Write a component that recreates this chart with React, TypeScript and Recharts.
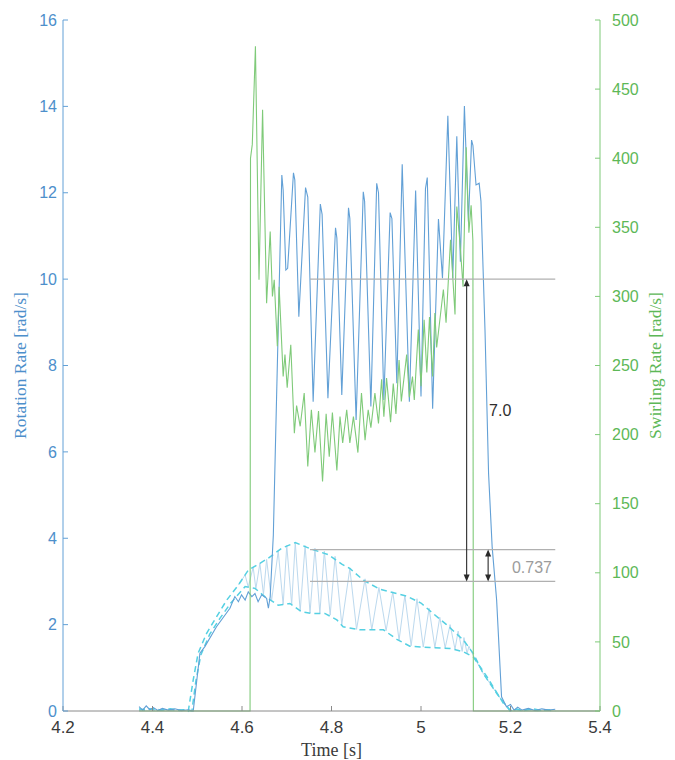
import React from 'react';
import { LineChart, Line, XAxis, YAxis, ReferenceLine, ReferenceDot } from 'recharts';

// ---- axis ticks ----
const timeTicks = [4.2, 4.4, 4.6, 4.8, 5.0, 5.2, 5.4];
const rotationTicks = [0, 2, 4, 6, 8, 10, 12, 14, 16];
const swirlTicks = [0, 50, 100, 150, 200, 250, 300, 350, 400, 450, 500];

// ---- Rotation rate (left axis, solid blue) ----
const rotationTime = [
  4.370, 4.378, 4.386, 4.394, 4.402, 4.412, 4.422, 4.435, 4.450, 4.465, 4.480, 4.491,
  4.506, 4.517, 4.543, 4.573, 4.584, 4.592, 4.599, 4.607, 4.614, 4.622, 4.629, 4.636,
  4.644, 4.655, 4.659, 4.663, 4.670, 4.689, 4.692, 4.698, 4.702, 4.715, 4.718, 4.727,
  4.742, 4.747, 4.759, 4.775, 4.779, 4.792, 4.809, 4.812, 4.823, 4.838, 4.841, 4.855,
  4.871, 4.874, 4.888, 4.901, 4.905, 4.917, 4.931, 4.935, 4.946, 4.958, 4.974, 4.988,
  5.000, 5.010, 5.014, 5.026, 5.039, 5.048, 5.060, 5.071, 5.080, 5.088, 5.097, 5.106,
  5.113, 5.116, 5.123, 5.130, 5.134, 5.143, 5.151, 5.159, 5.169, 5.180, 5.191, 5.200,
  5.208, 5.216, 5.226, 5.240, 5.255, 5.270, 5.285, 5.300,
];
const rotationValue = [
  0.10, 0.02, 0.12, 0.03, 0.08, 0.01, 0.06, 0.02, 0.05, 0.01, 0.03, 0.00,
  1.34, 1.49, 1.95, 2.38, 2.65, 2.53, 2.69, 2.57, 2.76, 2.65, 2.72, 2.53,
  2.69, 2.61, 2.38, 2.65, 4.07, 12.41, 12.06, 10.21, 10.25, 12.46, 12.30, 9.13,
  12.12, 11.90, 7.16, 11.74, 11.50, 7.24, 11.19, 10.95, 7.32, 11.65, 11.40, 6.74,
  12.02, 11.80, 7.05, 12.22, 12.00, 7.20, 11.54, 11.40, 7.59, 12.66, 7.16, 12.05,
  7.28, 12.10, 12.35, 7.00, 11.39, 10.02, 13.78, 10.02, 13.31, 10.40, 14.01, 11.33,
  13.22, 13.10, 12.18, 12.22, 11.80, 8.82, 5.50, 3.80, 2.57, 0.33, 0.10, 0.15,
  0.02, 0.09, 0.02, 0.06, 0.01, 0.05, 0.02, 0.04,
];

// ---- Swirling rate (right axis, green) ----
const swirlTime = [
  4.370, 4.618, 4.619, 4.623, 4.630, 4.638, 4.646, 4.655, 4.663, 4.668, 4.672, 4.679,
  4.683, 4.692, 4.696, 4.701, 4.709, 4.717, 4.722, 4.730, 4.739, 4.747, 4.755, 4.763,
  4.771, 4.780, 4.788, 4.795, 4.802, 4.812, 4.819, 4.825, 4.834, 4.841, 4.849, 4.859,
  4.867, 4.875, 4.882, 4.888, 4.897, 4.905, 4.912, 4.917, 4.923, 4.932, 4.938, 4.944,
  4.951, 4.956, 4.968, 4.974, 4.981, 4.985, 4.994, 5.000, 5.007, 5.013, 5.019, 5.026,
  5.031, 5.035, 5.050, 5.056, 5.066, 5.076, 5.080, 5.087, 5.094, 5.101, 5.107, 5.112,
  5.116, 5.117, 5.400,
];
const swirlValue = [
  0, 0, 400, 410, 481, 312, 435, 295, 347, 300, 312, 264,
  307, 242, 258, 234, 265, 201, 221, 206, 230, 177, 218, 187,
  217, 166, 215, 184, 216, 174, 213, 194, 218, 194, 213, 187,
  230, 196, 218, 205, 230, 208, 240, 213, 241, 209, 237, 215,
  254, 224, 258, 227, 242, 225, 276, 235, 283, 245, 285, 242,
  288, 263, 305, 281, 341, 287, 365, 339, 307, 408, 346, 366,
  340, 0, 0,
];

// ---- upper envelope (cyan dashed) ----
const upperTime = [
  4.370, 4.385, 4.400, 4.420, 4.440, 4.460, 4.475, 4.480, 4.491, 4.502, 4.521, 4.543,
  4.566, 4.592, 4.614, 4.640, 4.659, 4.689, 4.719, 4.752, 4.793, 4.823, 4.841, 4.871,
  4.908, 4.968, 5.000, 5.020, 5.057, 5.095, 5.117, 5.139, 5.169, 5.195, 5.199, 5.210,
  5.225, 5.240, 5.260, 5.280, 5.300,
];
const upperValue = [
  0.05, 0.01, 0.06, 0.02, 0.05, 0.01, 0.03, 0.00, 0.72, 1.34, 1.80, 2.18,
  2.57, 2.92, 3.26, 3.42, 3.54, 3.77, 3.90, 3.76, 3.62, 3.40, 3.30, 3.03,
  2.82, 2.66, 2.50, 2.32, 2.00, 1.64, 1.33, 0.87, 0.41, 0.06, 0.00, 0.05,
  0.01, 0.04, 0.01, 0.03, 0.00,
];

// ---- lower envelope (cyan dashed) ----
const lowerTime = [
  4.370, 4.390, 4.410, 4.430, 4.450, 4.470, 4.488, 4.497, 4.508, 4.528, 4.551, 4.575,
  4.607, 4.629, 4.651, 4.681, 4.707, 4.733, 4.756, 4.785, 4.812, 4.826, 4.864, 4.916,
  4.946, 4.975, 5.020, 5.065, 5.095, 5.117, 5.147, 5.184, 5.202, 5.215, 5.230, 5.250,
  5.270, 5.290,
];
const lowerValue = [
  0.02, 0.06, 0.01, 0.04, 0.02, 0.03, 0.00, 0.70, 1.30, 1.78, 2.15, 2.50,
  2.88, 2.84, 2.65, 2.45, 2.49, 2.30, 2.26, 2.26, 2.11, 1.95, 1.88, 1.88,
  1.66, 1.50, 1.47, 1.45, 1.37, 1.25, 0.80, 0.18, 0.00, 0.04, 0.01, 0.05,
  0.01, 0.03,
];

// ---- oscillating model trace (light blue) ----
const modelTime = [
  4.592, 4.607, 4.614, 4.625, 4.631, 4.640, 4.648, 4.655, 4.666, 4.681, 4.692, 4.700,
  4.711, 4.719, 4.730, 4.741, 4.752, 4.763, 4.774, 4.784, 4.797, 4.808, 4.823, 4.841,
  4.856, 4.875, 4.890, 4.906, 4.922, 4.937, 4.951, 4.964, 4.978, 4.991, 5.005, 5.018,
  5.031, 5.042, 5.054, 5.065, 5.076, 5.083, 5.092, 5.096, 5.103, 5.107, 5.117, 5.140,
  5.170, 5.195,
];
const modelValue = [
  2.92, 3.15, 2.87, 3.33, 2.83, 3.42, 2.70, 3.51, 2.55, 3.70, 2.46, 3.83,
  2.47, 3.90, 2.31, 3.83, 2.27, 3.77, 2.26, 3.70, 2.22, 3.58, 2.00, 3.30,
  1.89, 3.06, 1.88, 2.86, 1.86, 2.76, 1.64, 2.68, 1.51, 2.60, 1.48, 2.38,
  1.47, 2.17, 1.46, 2.00, 1.43, 1.85, 1.38, 1.70, 1.33, 1.50, 1.28, 0.85,
  0.40, 0.05,
];

// ---- annotations (data units) ----
const levelValues = [10, 3.737, 3.0];
const levelRange = [4.752, 5.3];
const arrowTimes = [5.102, 5.15];
const arrowFrom = [3.0, 3.0];
const arrowTo = [10, 3.737];
const noteTexts = ['7.0', '0.737'];
const noteTimes = [5.177, 5.248];
const noteValues = [6.97, 3.32];

const zip = (ts: number[], vs: number[]) => ts.map((t, i) => ({ t, v: vs[i] }));
const rotationData = zip(rotationTime, rotationValue);
const swirlData = zip(swirlTime, swirlValue);
const upperData = zip(upperTime, upperValue);
const lowerData = zip(lowerTime, lowerValue);
const modelData = zip(modelTime, modelValue);

const SANS = '"Liberation Sans", Arial, Helvetica, sans-serif';
const SERIF = '"Liberation Serif", "Times New Roman", serif';
const BLUE = '#4d8fcb';
const BLUE_LINE = '#62a0d6';
const GREEN = '#5db857';
const GREEN_LINE = '#7fca79';
const CYAN = '#55d0e2';
const LIGHT = '#bcd9ee';

const ArrowShape = (p: any) => {
  const x = p.x1;
  const top = Math.min(p.y1, p.y2);
  const bot = Math.max(p.y1, p.y2);
  const c = '#2a2a2a';
  return (
    <g>
      <line x1={x} y1={top + 2} x2={x} y2={bot - 2} stroke={c} strokeWidth={1.1} />
      <polygon points={`${x},${top} ${x - 3},${top + 7} ${x + 3},${top + 7}`} fill={c} />
      <polygon points={`${x},${bot} ${x - 3},${bot - 7} ${x + 3},${bot - 7}`} fill={c} />
    </g>
  );
};

const fmtTime = (v: number) => String(Number(v.toFixed(1)));

export default function App() {
  return (
    <div style={{ position: 'absolute', left: 0, top: 0, background: '#ffffff' }}>
      <LineChart width={675} height={760} margin={{ top: 20, right: 0, bottom: 0, left: 0 }}>
        <XAxis
          dataKey="t"
          type="number"
          domain={[4.2, 5.4]}
          ticks={timeTicks}
          tickFormatter={fmtTime}
          allowDataOverflow
          height={49}
          tickSize={-5}
          tickMargin={15}
          stroke="#8a8a8a"
          tick={{ fill: '#3a3a3a', fontSize: 17, fontFamily: SANS }}
          label={{
            value: 'Time [s]',
            position: 'insideBottom',
            offset: 4,
            style: { fill: '#3a3a3a', fontSize: 18, fontFamily: SERIF },
          }}
        />
        <YAxis
          yAxisId="left"
          orientation="left"
          type="number"
          domain={[0, 16]}
          ticks={rotationTicks}
          width={63}
          tickSize={-5}
          tickMargin={11}
          stroke={BLUE_LINE}
          tick={{ fill: BLUE, fontSize: 16, fontFamily: SANS }}
          label={{
            value: 'Rotation Rate [rad/s]',
            angle: -90,
            position: 'insideLeft',
            offset: 20,
            style: { textAnchor: 'middle', fill: BLUE, fontSize: 17.5, fontFamily: SERIF },
          }}
        />
        <YAxis
          yAxisId="right"
          orientation="right"
          type="number"
          domain={[0, 500]}
          ticks={swirlTicks}
          width={75}
          tickSize={-5}
          tickMargin={17}
          stroke={GREEN_LINE}
          tick={{ fill: GREEN, fontSize: 16, fontFamily: SANS }}
          label={{
            value: 'Swirling Rate [rad/s]',
            angle: -90,
            position: 'insideRight',
            offset: 20,
            style: { textAnchor: 'middle', fill: GREEN, fontSize: 17.5, fontFamily: SERIF },
          }}
        />

        <Line yAxisId="left" data={modelData} dataKey="v" type="linear" stroke={LIGHT} strokeWidth={1} dot={false} activeDot={false} isAnimationActive={false} />
        <Line yAxisId="left" data={upperData} dataKey="v" type="linear" stroke={CYAN} strokeWidth={1.5} strokeDasharray="6 4" dot={false} activeDot={false} isAnimationActive={false} />
        <Line yAxisId="left" data={lowerData} dataKey="v" type="linear" stroke={CYAN} strokeWidth={1.5} strokeDasharray="6 4" dot={false} activeDot={false} isAnimationActive={false} />
        <Line yAxisId="left" data={rotationData} dataKey="v" type="linear" stroke={BLUE_LINE} strokeWidth={1.1} dot={false} activeDot={false} isAnimationActive={false} />
        <Line yAxisId="right" data={swirlData} dataKey="v" type="linear" stroke={GREEN_LINE} strokeWidth={1.1} dot={false} activeDot={false} isAnimationActive={false} />

        {levelValues.map((lv) => (
          <ReferenceLine
            key={'lvl' + lv}
            yAxisId="left"
            segment={[{ x: levelRange[0], y: lv }, { x: levelRange[1], y: lv }]}
            stroke="#b0b0b0"
            strokeWidth={1.2}
          />
        ))}
        {arrowTimes.map((at, i) => (
          <ReferenceLine
            key={'arr' + i}
            yAxisId="left"
            segment={[{ x: at, y: arrowFrom[i] }, { x: at, y: arrowTo[i] }]}
            shape={ArrowShape}
          />
        ))}
        {noteTexts.map((txt, i) => (
          <ReferenceDot
            key={'note' + i}
            yAxisId="left"
            x={noteTimes[i]}
            y={noteValues[i]}
            r={0}
            fill="none"
            stroke="none"
            label={{
              value: txt,
              position: 'center',
              fill: i === 0 ? '#2e2e2e' : '#9c9c9c',
              fontSize: 16,
              fontFamily: SANS,
            }}
          />
        ))}
      </LineChart>
    </div>
  );
}
